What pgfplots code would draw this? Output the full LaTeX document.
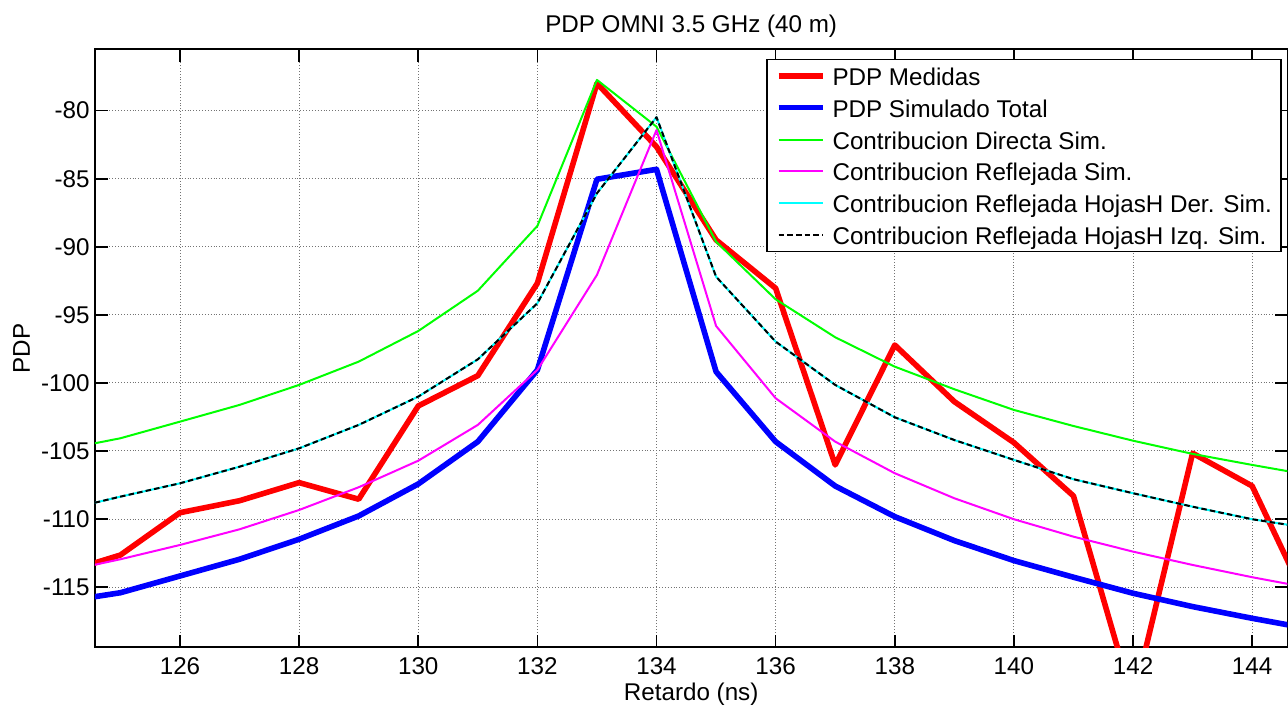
\documentclass[border=0pt]{standalone}
\usepackage{fontspec}
\setmainfont{Liberation Sans}
\usepackage{pgfplots}
\pgfplotsset{compat=1.18}
\definecolor{cRed}{RGB}{255,0,0}
\definecolor{cBlue}{RGB}{0,0,255}
\definecolor{cGreen}{RGB}{0,255,0}
\definecolor{cMag}{RGB}{255,0,255}
\definecolor{cCyan}{RGB}{0,255,255}
\newcommand{\ls}{\rule[-3bp]{0pt}{14bp}}
\begin{document}
\begin{tikzpicture}[font=\fontsize{12.1bp}{14.5bp}\selectfont]
\begin{axis}[
  scale only axis,
  width=596.15bp, height=299bp,
  xmin=124.573, xmax=144.59,
  ymin=-119.43, ymax=-75.49,
  xtick={126,128,130,132,134,136,138,140,142,144},
  xticklabels={126,128,130,132,134,136,138,140,142,144},
  ytick={-115,-110,-105,-100,-95,-90,-85,-80},
  yticklabels={-115,-110,-105,-100,-95,-90,-85,-80},
  xticklabel style={anchor=base, yshift=-13.85bp, inner sep=0pt},
  yticklabel style={anchor=east, inner sep=0pt, xshift=-2.5bp},
  tick align=inside,
  major tick length=6.3bp,
  tick style={black, line width=0.8bp},
  axis line style={black, line width=0.8bp},
  grid=major,
  major grid style={black!55, line width=0.45bp, densely dotted},
  title={PDP OMNI 3.5 GHz (40 m)},
  every axis title/.style={at={(axis description cs:0.5,1)}, anchor=base, yshift=8.5bp, inner sep=0pt},
  xlabel={Retardo (ns)},
  every axis x label/.style={at={(axis description cs:0.5,0)}, anchor=base, yshift=-26.85bp, inner sep=0pt},
  ylabel={PDP},
  every axis y label/.style={at={(axis description cs:-0.05452,0.5)}, anchor=base, rotate=90, inner sep=0pt},
  legend style={at={(axis description cs:0.9953,0.9844)}, anchor=north east,
    draw=black, line width=0.8bp, fill=white,
    inner xsep=4.5bp, inner ysep=1.9bp, row sep=3.46bp, column sep=3.25bp,
    nodes={inner sep=0pt},
    font=\fontsize{12.1bp}{14.5bp}\selectfont},
  legend cell align=left,
  legend image code/.code={\draw[#1] (0bp,0bp) -- (22.3bp,0bp);},
]
\addplot[color=cRed, line width=2.8bp, line join=round] coordinates {
(124,-114.0) (125,-112.65) (126,-109.54) (127,-108.66) (128,-107.33) (129,-108.55)
(130,-101.70) (131,-99.47) (132,-92.68) (133,-77.99) (134,-82.65) (135,-89.50)
(136,-93.05) (137,-106.03) (138,-97.22) (139,-101.38) (140,-104.39) (141,-108.31)
(142,-123.4) (143,-105.17) (144,-107.58) (145,-116.8)
};
\addlegendentry{\ls PDP Medidas}
\addplot[color=cBlue, line width=2.8bp, line join=round] coordinates {
(124,-116.1) (125,-115.42) (126,-114.19) (127,-112.96) (128,-111.49) (129,-109.78)
(130,-107.43) (131,-104.32) (132,-99.05) (133,-85.04) (134,-84.31) (135,-99.18)
(136,-104.32) (137,-107.58) (138,-109.83) (139,-111.59) (140,-113.06) (141,-114.28)
(142,-115.46) (143,-116.44) (144,-117.30) (145,-118.1)
};
\addlegendentry{\ls PDP Simulado Total}
\addplot[color=cGreen, line width=1bp, line join=round] coordinates {
(124,-104.93) (125,-104.07) (126,-102.85) (127,-101.62) (128,-100.15) (129,-98.44)
(130,-96.19) (131,-93.23) (132,-88.47) (133,-77.74) (134,-81.18) (135,-89.63)
(136,-93.86) (137,-96.65) (138,-98.81) (139,-100.47) (140,-101.99) (141,-103.17)
(142,-104.25) (143,-105.22) (144,-106.03) (145,-106.8)
};
\addlegendentry{\ls Contribucion Directa Sim.}
\addplot[color=cMag, line width=1bp, line join=round] coordinates {
(124,-113.9) (125,-112.96) (126,-111.91) (127,-110.76) (128,-109.34) (129,-107.67)
(130,-105.72) (131,-103.09) (132,-99.05) (133,-92.07) (134,-81.42) (135,-95.82)
(136,-101.13) (137,-104.32) (138,-106.64) (139,-108.48) (140,-110.02) (141,-111.30)
(142,-112.40) (143,-113.38) (144,-114.28) (145,-115.1)
};
\addlegendentry{\ls Contribucion Reflejada Sim.}
\addplot[color=cCyan, line width=1bp, line join=round] coordinates {
(124,-109.4) (125,-108.36) (126,-107.38) (127,-106.16) (128,-104.81) (129,-103.09)
(130,-101.01) (131,-98.27) (132,-94.15) (133,-86.07) (134,-80.48) (135,-92.20)
(136,-96.97) (137,-100.15) (138,-102.53) (139,-104.20) (140,-105.66) (141,-107.08)
(142,-108.11) (143,-109.10) (144,-110.02) (145,-110.7)
};
\addlegendentry{\ls Contribucion Reflejada HojasH Der. Sim.}
\addplot[color=black, line width=1bp, dash pattern=on 2.75bp off 1.6bp, line join=round] coordinates {
(124,-109.4) (125,-108.36) (126,-107.38) (127,-106.16) (128,-104.81) (129,-103.09)
(130,-101.01) (131,-98.27) (132,-94.15) (133,-86.07) (134,-80.48) (135,-92.20)
(136,-96.97) (137,-100.15) (138,-102.53) (139,-104.20) (140,-105.66) (141,-107.08)
(142,-108.11) (143,-109.10) (144,-110.02) (145,-110.7)
};
\addlegendentry{\ls Contribucion Reflejada HojasH Izq. Sim.\hspace*{0.5bp}}
\end{axis}
\pgfresetboundingbox
\path ([shift={(-47.5bp,-30.85bp)}]current axis.south west) rectangle ([shift={(0.35bp,24.65bp)}]current axis.north east);
\end{tikzpicture}
\end{document}
